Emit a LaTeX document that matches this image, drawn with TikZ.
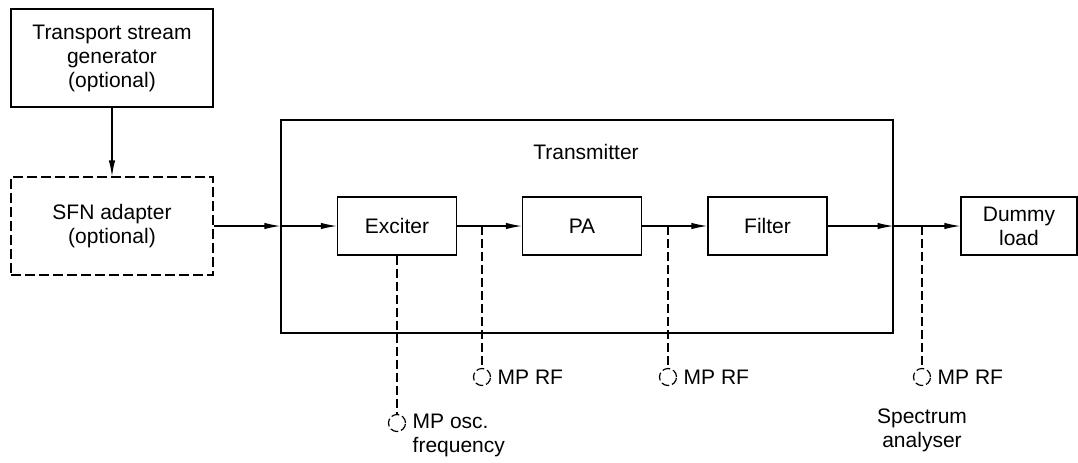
\documentclass[tikz,border=0pt]{standalone}
\usepackage{fontspec}
\setmainfont{Liberation Sans}
\usetikzlibrary{arrows.meta, positioning}

\begin{document}
\begin{tikzpicture}[x=0.5pt, y=-0.5pt, line width=0.6pt,
    font=\fontsize{10.5}{12}\selectfont,
    box/.style={rectangle, draw, align=center, inner sep=0pt,
                minimum width=59.5pt, minimum height=29pt},
    bigbox/.style={box, minimum width=101pt, minimum height=49pt},
    arr/.style={-{Latex[length=8pt, width=3.2pt]}},
    probe/.style={dash pattern=on 4.5pt off 2pt},
    mp/.style={circle, draw, inner sep=0pt, minimum size=8.5pt,
               dash pattern=on 4pt off 1.5pt},
    lbl/.style={inner sep=0pt}]
    \useasboundingbox (0,0) rectangle (1078,462);

    % Source chain
    \node[bigbox] (tsg) at (112,58) {Transport stream\\generator\\(optional)};
    \node[bigbox, dash pattern=on 5pt off 2pt] (sfn) at (112,226) {SFN adapter\\(optional)};
    \draw[arr] (tsg) -- (sfn);

    % Transmitter
    \node[box, minimum width=306pt, minimum height=106.5pt] (tx) at (587,226.5) {};
    \node[lbl] (txlabel) at (586,152) {Transmitter};
    \node[box] (exc) at (397,226) {Exciter};
    \node[box] (pa) at (582,226) {PA};
    \node[box] (filt) at (767.5,226) {Filter};
    \node[box, minimum width=58pt] (load) at (1019,226) {Dummy\\load};

    % Signal path
    \draw[arr] (sfn) -- (sfn -| tx.west);
    \draw[arr] (exc -| tx.west) -- (exc);
    \draw[arr] (exc) -- (pa);
    \draw[arr] (pa) -- (filt);
    \draw[arr] (filt) -- (filt -| tx.east);
    \draw[arr] (filt -| tx.east) -- (load);

    % Measurement points
    \node[mp] (mposc) at (397,423) {};
    \node[mp] (mprf1) at (482,377) {};
    \node[mp] (mprf2) at (668,377) {};
    \node[mp] (mprf3) at (922,377) {};
    \draw[probe] (exc.south) -- (mposc.north);
    \foreach \p in {mprf1, mprf2, mprf3}
        \draw[probe] (\p |- exc) -- (\p.north);

    \node[lbl, align=left, right=3pt of mposc, yshift=-6pt] (osclabel) {MP osc.\\frequency};
    \node[lbl, right=3pt of mprf1] (rflabel1) {MP RF};
    \node[lbl, right=3pt of mprf2] (rflabel2) {MP RF};
    \node[lbl, right=3pt of mprf3] (rflabel3) {MP RF};
    \node[lbl, align=center, below=11pt of mprf3] (salabel) {Spectrum\\analyser};
\end{tikzpicture}
\end{document}
